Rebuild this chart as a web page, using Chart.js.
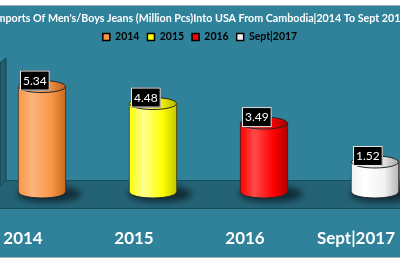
<!DOCTYPE html>
<html>
<head>
<meta charset="utf-8">
<script src="https://cdn.jsdelivr.net/npm/chart.js@4.4.1/dist/chart.umd.min.js"></script>
<style>
  html, body { margin: 0; padding: 0; background: #fff; overflow: hidden; }
  /* canvas is wider than the window so the long title and the edge bars run off both sides */
  #wrap {
    position: absolute; left: -60px; top: 5px; width: 520px; height: 251px;
    border-top: 1px solid #9fb0b5; border-bottom: 1px solid #9fb0b5;
  }
</style>
</head>
<body>
<div id="wrap"><canvas id="jeans"></canvas></div>
<script>
// data
const years = ["2014", "2015", "2016", "Sept|2017"];
const pieces = [5.34, 4.48, 3.49, 1.52];

// bar colours: base, highlight, shade
const barColors = ["#f79646", "#ffff00", "#ff0000", "#f2f2f2"];
const lightColors = ["#fdb47c", "#ffff90", "#ff4a4a", "#ffffff"];
const darkColors = ["#c8661c", "#c4c400", "#b00000", "#b4b4b4"];

const BAR_W = 48;
const RY = 6;
const EDGE = 60; // where the visible window starts inside the canvas

function barGradient(ctx, cx, i) {
    const g = ctx.createLinearGradient(cx - BAR_W / 2, 0, cx + BAR_W / 2, 0);
    g.addColorStop(0, barColors[i]);
    g.addColorStop(0.3, lightColors[i]);
    g.addColorStop(0.7, barColors[i]);
    g.addColorStop(1, darkColors[i]);
    return g;
}

// draws the background, floor, shadows, cylinder ends and value boxes
const cylinderPlugin = {
    id: 'cylinders',
    beforeDraw(chart) {
        const { ctx, width, height, scales } = chart;
        const zero = scales.y.getPixelForValue(0);
        const back = zero - 12, front = zero + 16;
        const x0 = EDGE;
        ctx.save();
        ctx.fillStyle = '#30829a';
        ctx.fillRect(0, 0, width, height);

        // left side wall
        ctx.fillStyle = '#235d6e';
        ctx.beginPath();
        ctx.moveTo(x0, zero - 129);
        ctx.lineTo(x0 + 6, zero - 134);
        ctx.lineTo(x0 + 6, back);
        ctx.lineTo(x0, back + 6);
        ctx.closePath();
        ctx.fill();
        ctx.strokeStyle = '#163f4b';
        ctx.lineWidth = 1;
        ctx.stroke();

        // floor
        ctx.fillStyle = '#246276';
        ctx.beginPath();
        ctx.moveTo(x0 + 6, back);
        ctx.lineTo(width, back);
        ctx.lineTo(width, front);
        ctx.lineTo(x0, front);
        ctx.lineTo(x0, back + 6);
        ctx.closePath();
        ctx.fill();
        ctx.strokeStyle = '#1a4c5a';
        ctx.beginPath();
        ctx.moveTo(x0 + 6, back + 0.5); ctx.lineTo(width, back + 0.5);
        ctx.moveTo(x0, front + 0.5); ctx.lineTo(width, front + 0.5);
        ctx.moveTo(x0 + 6, back); ctx.lineTo(x0, back + 6);
        ctx.stroke();
        ctx.restore();
    },
    beforeDatasetsDraw(chart) {
        const { ctx } = chart;
        const meta = chart.getDatasetMeta(0);
        ctx.save();
        ctx.filter = 'blur(3px)';
        ctx.fillStyle = 'rgba(0, 0, 0, 0.55)';
        meta.data.forEach(bar => {
            ctx.beginPath();
            ctx.ellipse(bar.x + 7, bar.base + 2, BAR_W / 2 + 8, RY + 2, 0, 0, Math.PI * 2);
            ctx.fill();
        });
        ctx.restore();
    },
    afterDatasetsDraw(chart) {
        const { ctx } = chart;
        const meta = chart.getDatasetMeta(0);
        ctx.save();
        ctx.lineWidth = 1;
        ctx.strokeStyle = '#262626';
        meta.data.forEach((bar, i) => {
            const rx = BAR_W / 2;
            const g = barGradient(ctx, bar.x, i);
            // bottom rim
            ctx.beginPath();
            ctx.ellipse(bar.x, bar.base, rx - 0.5, RY, 0, 0, Math.PI);
            ctx.fillStyle = g;
            ctx.fill();
            ctx.stroke();
            // top face
            ctx.beginPath();
            ctx.ellipse(bar.x, bar.y, rx - 0.5, RY, 0, 0, Math.PI * 2);
            ctx.fillStyle = g;
            ctx.fill();
            ctx.fillStyle = 'rgba(0, 0, 0, 0.07)';
            ctx.fill();
            ctx.stroke();

            // value box
            const txt = pieces[i].toFixed(2);
            ctx.font = '12px Lato';
            const w = ctx.measureText(txt).width + 6;
            const bx = bar.x - rx + 2, by = bar.y - RY - 10;
            ctx.fillStyle = '#000';
            ctx.fillRect(bx, by, w, 20);
            ctx.strokeStyle = '#e8e8e8';
            ctx.strokeRect(bx + 0.5, by + 0.5, w - 1, 19);
            ctx.strokeStyle = '#262626';
            ctx.fillStyle = '#fff';
            ctx.textAlign = 'center';
            ctx.textBaseline = 'middle';
            ctx.fillText(txt, bx + w / 2, by + 10.5);
        });
        ctx.restore();
    }
};

new Chart(document.getElementById('jeans'), {
    type: 'bar',
    data: {
        datasets: [{
            data: pieces.map((v, i) => ({ x: i, y: v })),
            backgroundColor: (c) => {
                const i = c.dataIndex;
                if (i === undefined || !c.chart.scales.x) return barColors[0];
                return barGradient(c.chart.ctx, c.chart.scales.x.getPixelForValue(i), i);
            },
            borderColor: '#262626',
            borderWidth: { left: 1, right: 1, top: 0, bottom: 0 },
            borderSkipped: false,
            barThickness: BAR_W,
            clip: false
        }]
    },
    options: {
        responsive: true,
        maintainAspectRatio: false,
        animation: false,
        events: [],
        layout: { autoPadding: false, padding: 0 },
        plugins: {
            title: {
                display: true,
                text: "Imports Of Men's/Boys Jeans (Million Pcs)Into USA From Cambodia|2014 To Sept 2017",
                color: '#ffffff',
                font: { family: 'Lato', size: 10.7, weight: 'bold', lineHeight: 1 },
                padding: { top: 7, bottom: 0 }
            },
            legend: {
                display: true,
                position: 'top',
                labels: {
                    color: '#ffffff',
                    boxWidth: 7,
                    boxHeight: 7,
                    padding: 8,
                    font: { family: 'Lato', size: 10.5, weight: 'bold' },
                    generateLabels: () => years.map((y, i) => ({
                        text: y,
                        fillStyle: barColors[i],
                        strokeStyle: '#000000',
                        lineWidth: 1.5,
                        hidden: false,
                        index: i
                    }))
                }
            },
            tooltip: { enabled: false }
        },
        scales: {
            x: {
                type: 'linear',
                offset: false,
                min: -0.919,
                max: 3.766,
                grid: { display: false, drawTicks: false, offset: false },
                border: { display: false },
                afterFit: (s) => { s.height = 65; },
                ticks: {
                    stepSize: 1,
                    includeBounds: false,
                    autoSkip: false,
                    maxRotation: 0,
                    padding: 36,
                    labelOffset: -19,
                    color: '#ffffff',
                    font: { family: 'Lato', size: 17, weight: 'bold' },
                    callback: (v) => years[v] !== undefined ? years[v] : ''
                }
            },
            y: {
                display: false,
                min: 0,
                max: 7.08
            }
        }
    },
    plugins: [cylinderPlugin]
});
</script>
</body>
</html>
